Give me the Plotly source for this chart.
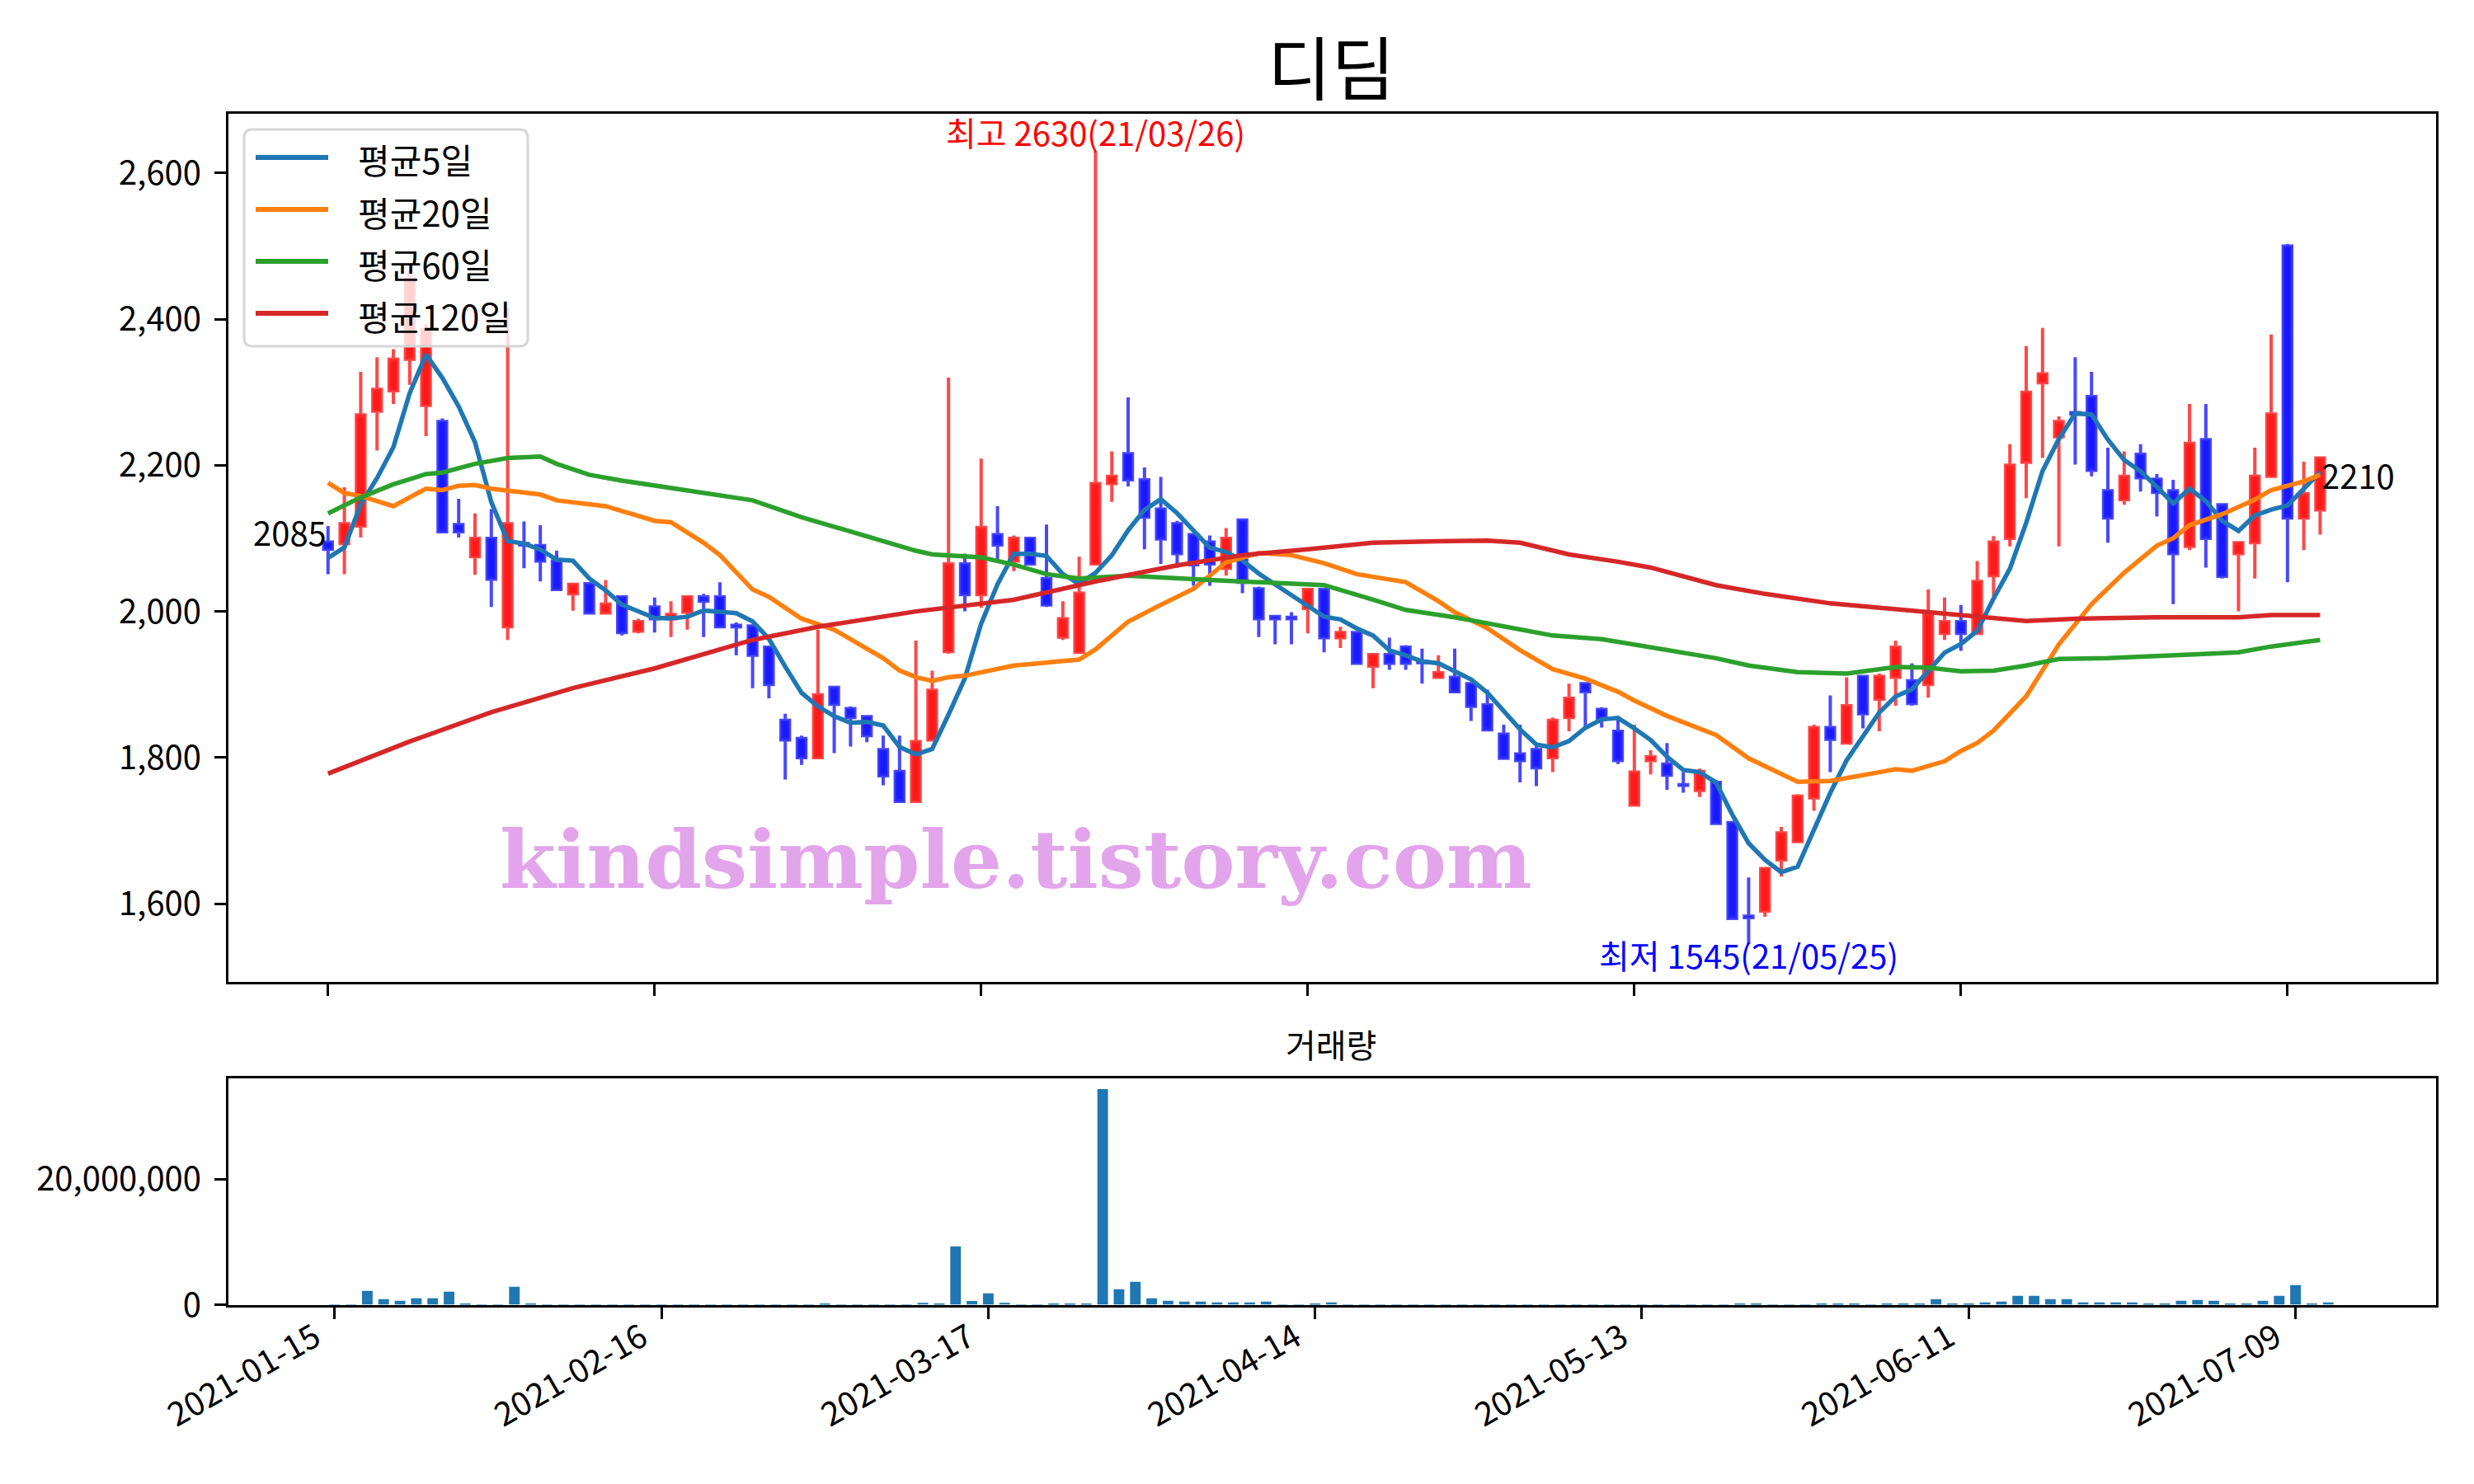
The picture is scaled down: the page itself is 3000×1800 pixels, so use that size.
import plotly.graph_objects as go
import pandas as pd

# ---------------- data ----------------
opens = [2095, 2093, 2117, 2274, 2302, 2345, 2282, 2260, 2119, 2075,
         2100, 1979, 2093, 2090, 2069, 2024, 2038, 1998, 2020, 1973,
         2006, 1990, 1999, 2020, 2020, 1981, 1980, 1951, 1851, 1826,
         1800, 1896, 1867, 1856, 1811, 1781, 1740, 1824, 1945, 2065,
         2023, 2105, 2069, 2100, 2045, 1965, 1944, 2065, 2175, 2216,
         2180, 2140, 2120, 2105, 2095, 2059, 2125, 2031, 1993, 1992,
         2004, 2030, 1964, 1971, 1925, 1941, 1951, 1932, 1910, 1910,
         1901, 1872, 1832, 1805, 1811, 1800, 1855, 1901, 1866, 1836,
         1735, 1796, 1791, 1763, 1755, 1766, 1711, 1583, 1590, 1660,
         1685, 1745, 1841, 1820, 1911, 1880, 1910, 1905, 1900, 1970,
         1986, 1970, 2049, 2100, 2204, 2313, 2239, 2272, 2294, 2165,
         2153, 2215, 2181, 2165, 2089, 2235, 2146, 2079, 2094, 2185,
         2500, 2128, 2139]
highs = [2117, 2170, 2328, 2348, 2359, 2467, 2393, 2264, 2154, 2134,
         2140, 2415, 2123, 2118, 2083, 2039, 2039, 2043, 2020, 1990,
         2019, 2014, 2020, 2024, 2040, 1985, 1980, 1951, 1860, 1830,
         1975, 1896, 1870, 1856, 1830, 1830, 1960, 1919, 2320, 2079,
         2209, 2144, 2104, 2100, 2119, 2014, 2075, 2630, 2219, 2293,
         2197, 2184, 2124, 2105, 2104, 2114, 2125, 2034, 1994, 1999,
         2030, 2030, 1979, 1971, 1943, 1964, 1954, 1949, 1940, 1949,
         1901, 1893, 1845, 1845, 1815, 1855, 1901, 1901, 1869, 1854,
         1845, 1810, 1820, 1780, 1785, 1769, 1711, 1636, 1650, 1705,
         1750, 1845, 1885, 1910, 1911, 1915, 1960, 1929, 2030, 2019,
         2009, 2069, 2103, 2229, 2363, 2388, 2267, 2348, 2328, 2224,
         2219, 2229, 2188, 2180, 2284, 2284, 2146, 2094, 2224, 2379,
         2503, 2205, 2210]
lows = [2051, 2051, 2101, 2220, 2284, 2310, 2240, 2109, 2101, 2050,
        2006, 1961, 2059, 2041, 2030, 2001, 1997, 1997, 1967, 1970,
        1971, 1965, 1975, 1965, 1979, 1940, 1895, 1881, 1770, 1790,
        1800, 1806, 1815, 1821, 1762, 1740, 1740, 1822, 1942, 2000,
        2005, 2069, 2055, 2065, 2006, 1961, 1944, 2065, 2150, 2171,
        2085, 2065, 2060, 2035, 2035, 2049, 2025, 1965, 1955, 1955,
        1970, 1944, 1950, 1929, 1895, 1920, 1920, 1901, 1910, 1890,
        1850, 1836, 1799, 1766, 1761, 1780, 1836, 1841, 1841, 1791,
        1735, 1777, 1756, 1752, 1746, 1710, 1580, 1545, 1582, 1637,
        1685, 1727, 1780, 1820, 1840, 1836, 1871, 1871, 1882, 1961,
        1946, 1970, 2021, 2089, 2155, 2210, 2089, 2201, 2185, 2094,
        2146, 2164, 2130, 2010, 2084, 2060, 2045, 2000, 2045, 2185,
        2040, 2084, 2105]
closes = [2085, 2120, 2269, 2304, 2345, 2455, 2385, 2109, 2109, 2100,
          2044, 2120, 2091, 2069, 2030, 2037, 1998, 2010, 1971, 1986,
          1990, 1996, 2020, 2014, 1979, 1979, 1940, 1900, 1824, 1800,
          1886, 1873, 1855, 1830, 1775, 1740, 1822, 1892, 2065, 2023,
          2115, 2091, 2100, 2065, 2009, 1990, 2025, 2175, 2185, 2180,
          2129, 2099, 2079, 2064, 2065, 2100, 2040, 1990, 1990, 1990,
          2030, 1964, 1971, 1929, 1941, 1929, 1929, 1930, 1916, 1890,
          1870, 1838, 1799, 1796, 1786, 1851, 1881, 1890, 1853, 1796,
          1780, 1801, 1776, 1762, 1781, 1710, 1580, 1581, 1648, 1697,
          1747, 1841, 1825, 1871, 1860, 1911, 1951, 1874, 1996, 1986,
          1970, 2041, 2095, 2200, 2300, 2325, 2260, 2270, 2193, 2128,
          2185, 2183, 2163, 2079, 2230, 2100, 2048, 2094, 2185, 2270,
          2128, 2161, 2210]
# closes of the 4 sessions before the first candle (read back from the 5-day line)
prior_closes = [2050, 1974, 2124, 2134]

# volume in millions of shares
volume_m = [0.05, 0.05, 2.19, 0.88, 0.62, 1.0, 1.0, 2.06, 0.2, 0.05,
            0.05, 2.84, 0.2, 0.05, 0.05, 0.05, 0.05, 0.05, 0.05, 0.05,
            0.05, 0.05, 0.05, 0.05, 0.05, 0.05, 0.05, 0.05, 0.05, 0.05,
            0.2, 0.05, 0.05, 0.05, 0.05, 0.05, 0.3, 0.2, 9.27, 0.6,
            1.8, 0.3, 0.05, 0.05, 0.2, 0.2, 0.2, 34.3, 2.45, 3.63,
            1.0, 0.62, 0.5, 0.5, 0.36, 0.36, 0.36, 0.5, 0.05, 0.05,
            0.2, 0.36, 0.05, 0.05, 0.05, 0.05, 0.05, 0.05, 0.05, 0.05,
            0.05, 0.05, 0.05, 0.05, 0.05, 0.05, 0.05, 0.05, 0.05, 0.05,
            0.05, 0.05, 0.05, 0.05, 0.05, 0.05, 0.2, 0.2, 0.05, 0.05,
            0.05, 0.2, 0.2, 0.2, 0.05, 0.2, 0.2, 0.2, 0.88, 0.2,
            0.2, 0.36, 0.5, 1.4, 1.4, 0.88, 0.88, 0.36, 0.36, 0.36,
            0.36, 0.2, 0.2, 0.62, 0.75, 0.62, 0.2, 0.2, 0.62, 1.4,
            3.1, 0.2, 0.36]

# moving-average lines read at these session indices
ma20_idx = [0, 1, 2, 4, 6, 7, 8, 9, 10, 13, 14, 17, 20, 21, 23, 24, 26, 27, 29, 31,
            34, 35, 36, 37, 38, 39, 42, 45, 46, 47, 49, 51, 53, 55, 56, 57, 59, 61, 63, 66,
            68, 69, 71, 73, 75, 77, 79, 80, 82, 84, 85, 87, 89, 90, 92, 96, 97, 99, 100, 101,
            102, 104, 106, 108, 110, 112, 113, 114, 116, 118, 119, 121, 122]
ma20_val = [2176, 2162, 2158, 2144, 2168, 2166, 2172, 2173, 2168, 2160, 2152, 2144, 2124, 2122, 2094, 2077, 2030, 2020, 1990, 1975,
            1936, 1919, 1910, 1905, 1910, 1912, 1926, 1931, 1934, 1948, 1986, 2009, 2031, 2067, 2074, 2080, 2077, 2066, 2051, 2040,
            2014, 1999, 1977, 1947, 1921, 1908, 1890, 1878, 1857, 1840, 1831, 1799, 1777, 1767, 1768, 1784, 1782, 1795, 1809, 1820,
            1837, 1884, 1955, 2010, 2053, 2090, 2100, 2118, 2133, 2153, 2166, 2178, 2187]
ma60_idx = [0, 2, 4, 6, 7, 9, 11, 13, 14, 16, 18, 20, 21, 23, 26, 29, 32, 34, 36, 37,
            40, 42, 44, 46, 49, 54, 58, 60, 61, 64, 66, 69, 71, 74, 75, 78, 81, 85, 87, 90,
            93, 96, 98, 100, 102, 104, 106, 109, 114, 117, 119, 122]
ma60_val = [2134, 2156, 2174, 2188, 2190, 2202, 2210, 2212, 2202, 2187, 2179, 2172, 2169, 2163, 2152, 2129, 2109, 2096, 2083, 2078,
            2074, 2064, 2051, 2045, 2049, 2043, 2039, 2038, 2036, 2016, 2002, 1992, 1984, 1972, 1967, 1962, 1951, 1936, 1926, 1917,
            1915, 1924, 1923, 1918, 1919, 1926, 1935, 1936, 1941, 1944, 1952, 1961]
ma120_idx = [0, 5, 10, 15, 20, 26, 30, 36, 42, 47, 52, 56, 60, 64, 68, 71, 73, 75, 76, 79,
             81, 85, 88, 92, 96, 101, 104, 107, 112, 117, 119, 122]
ma120_val = [1778, 1822, 1862, 1895, 1922, 1961, 1979, 2000, 2016, 2041, 2063, 2077, 2085, 2094, 2096, 2097, 2094, 2083, 2078, 2068,
             2060, 2036, 2024, 2011, 2003, 1992, 1987, 1990, 1992, 1992, 1995, 1995]

tick_pos = [0, 20, 40, 60, 80, 100, 120]
tick_labels = ["2021-01-15", "2021-02-16", "2021-03-17", "2021-04-14",
               "2021-05-13", "2021-06-11", "2021-07-09"]

# ---------------- figure ----------------
W, H = 3000, 1800
OFF = 8  # the page body adds an 8px margin; positions below are in screenshot pixels
FONT = "Noto Sans CJK KR"
idx = list(range(len(closes)))
ma5 = pd.Series(prior_closes + closes).rolling(5).mean().iloc[len(prior_closes):].tolist()


def px(x):
    return (x - OFF) / W


def py(y):
    return 1 - (y - OFF) / H


ma_series = [("평균5일", idx, ma5, "#1f77b4"),
             ("평균20일", ma20_idx, ma20_val, "#ff7f0e"),
             ("평균60일", ma60_idx, ma60_val, "#2ca02c"),
             ("평균120일", ma120_idx, ma120_val, "#d62728")]

fig = go.Figure()
fig.add_trace(go.Candlestick(
    x=idx, open=opens, high=highs, low=lows, close=closes,
    increasing=dict(line=dict(color="rgba(255,40,40,0.85)", width=4), fillcolor="rgba(255,0,0,0.9)"),
    decreasing=dict(line=dict(color="rgba(40,40,255,0.85)", width=4), fillcolor="rgba(0,0,255,0.9)"),
    whiskerwidth=0, showlegend=False, hoverinfo="skip", xaxis="x", yaxis="y"))

for name, xs, ys, col in ma_series:
    fig.add_trace(go.Scatter(x=xs, y=ys, mode="lines", name=name, showlegend=False,
                             line=dict(color=col, width=5.5), xaxis="x", yaxis="y"))

fig.add_trace(go.Bar(x=idx, y=[v * 1e6 for v in volume_m], width=0.65,
                     marker=dict(color="#1f77b4", line=dict(width=0)),
                     showlegend=False, xaxis="x2", yaxis="y2"))

axis_common = dict(showline=True, mirror=True, linecolor="black", linewidth=3,
                   showgrid=False, zeroline=False, ticks="outside", ticklen=14,
                   tickwidth=2.5, tickcolor="black", automargin=False,
                   tickfont=dict(family=FONT, size=40, color="black"))
xdom = [px(277), px(2954)]
fig.update_layout(
    width=W, height=H, margin=dict(l=0, r=0, t=0, b=0, pad=0),
    paper_bgcolor="white", plot_bgcolor="white", boxgap=0.25,
    font=dict(family=FONT, size=40, color="black"), showlegend=False,
    xaxis=dict(domain=xdom, range=[-6.1, 129.1], tickvals=tick_pos, showticklabels=False,
               rangeslider=dict(visible=False), anchor="y", **axis_common),
    yaxis=dict(domain=[py(1191), py(138)], range=[1493, 2681],
               tickvals=[1600, 1800, 2000, 2200, 2400, 2600], tickformat=",d",
               ticklabelstandoff=8, anchor="x", **axis_common),
    xaxis2=dict(domain=xdom, range=[-6.5, 128.6], tickvals=tick_pos, ticktext=tick_labels,
                tickangle=-30, ticklabelstandoff=-16, ticklabelshift=-24, anchor="y2", **axis_common),
    yaxis2=dict(domain=[py(1582.5), py(1308)], range=[0, 36.0e6],
                tickvals=[0, 20000000], ticktext=["0", "20,000,000"],
                ticklabelstandoff=8, anchor="x2", **axis_common),
)

# ---- legend box (drawn like the matplotlib legend) ----
x0, x1, y0, y1, r = 296, 640, 157, 420, 10
path = (f"M {px(x0 + r)},{py(y0)} L {px(x1 - r)},{py(y0)} Q {px(x1)},{py(y0)} {px(x1)},{py(y0 + r)} "
        f"L {px(x1)},{py(y1 - r)} Q {px(x1)},{py(y1)} {px(x1 - r)},{py(y1)} "
        f"L {px(x0 + r)},{py(y1)} Q {px(x0)},{py(y1)} {px(x0)},{py(y1 - r)} "
        f"L {px(x0)},{py(y0 + r)} Q {px(x0)},{py(y0)} {px(x0 + r)},{py(y0)} Z")
fig.add_shape(type="path", path=path, xref="paper", yref="paper", layer="above",
              fillcolor="rgba(255,255,255,0.8)", line=dict(color="rgb(214,214,214)", width=3))
entry_y = [191, 254, 317, 380]
for (name, _, _, col), ey in zip(ma_series, entry_y):
    fig.add_shape(type="line", xref="paper", yref="paper", layer="above",
                  x0=px(310), x1=px(398), y0=py(ey), y1=py(ey),
                  line=dict(color=col, width=6))
    fig.add_annotation(text=name, x=px(432), y=py(ey + 2), xref="paper", yref="paper",
                       xanchor="left", yanchor="middle", showarrow=False,
                       font=dict(family=FONT, size=42, color="black"))

ann = [
    dict(text="디딤", x=px(1614), y=py(79), xref="paper", yref="paper",
         font=dict(family=FONT, size=84, color="black"), xanchor="center", yanchor="middle"),
    dict(text="거래량", x=px(1614), y=py(1266), xref="paper", yref="paper",
         font=dict(family=FONT, size=40, color="black"), xanchor="center", yanchor="middle"),
    dict(text="kindsimple.tistory.com", x=px(1232), y=py(1042), xref="paper", yref="paper",
         font=dict(family="DejaVu Serif", size=98, color="rgb(226,164,234)", weight="bold"),
         xanchor="center", yanchor="middle"),
    dict(text="최고 2630(21/03/26)", x=47, y=2630, xref="x", yref="y", xanchor="center",
         yanchor="bottom", yshift=-8, font=dict(family=FONT, size=40, color="red")),
    dict(text="최저 1545(21/05/25)", x=87, y=1545, xref="x", yref="y", xanchor="center",
         yanchor="top", yshift=18, font=dict(family=FONT, size=40, color="blue")),
    dict(text=str(closes[0]), x=0, y=closes[0], xref="x", yref="y", xanchor="right",
         yanchor="bottom", yshift=-10, font=dict(family=FONT, size=40, color="black")),
    dict(text=str(closes[-1]), x=len(closes) - 1, y=closes[-1], xref="x", yref="y", xanchor="left",
         yanchor="top", yshift=10, font=dict(family=FONT, size=40, color="black")),
]
for a in ann:
    a["showarrow"] = False
    fig.add_annotation(**a)

fig.write_html("out.html")
